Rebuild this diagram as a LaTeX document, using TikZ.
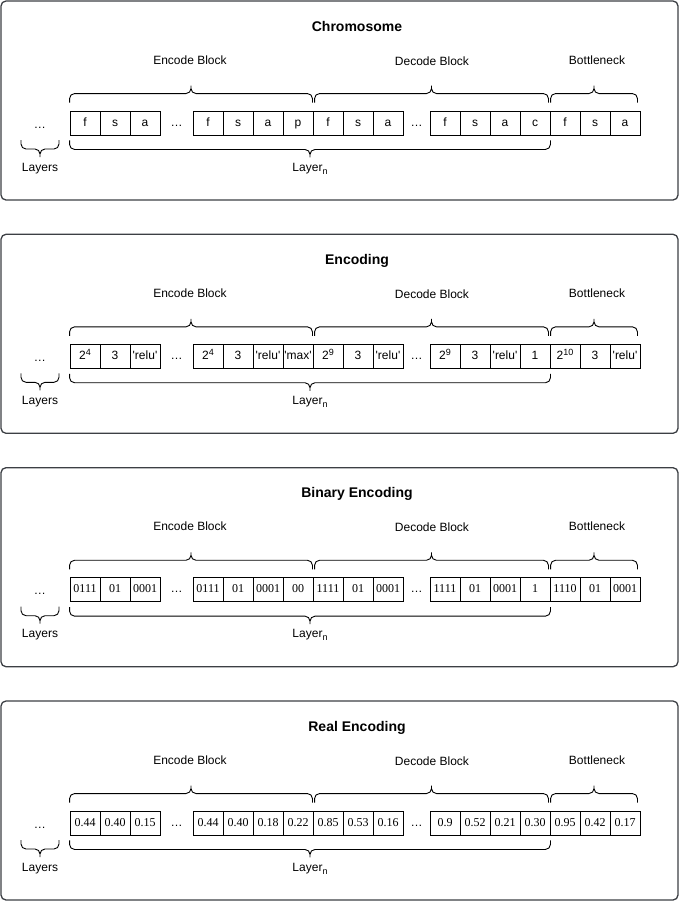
\documentclass[tikz,border=0pt]{standalone}
\usepackage{fontspec}
\setmainfont{Liberation Sans}
\newfontfamily\plainsans{Liberation Sans}
\newfontfamily\plainserif{Liberation Serif}
\usetikzlibrary{calc}
\definecolor{PanelEdge}{HTML}{3C3F44}
\newcommand{\sups}[1]{\raisebox{4pt}{\fontsize{9}{10}\selectfont #1}}
\newcommand{\subs}[1]{\raisebox{-3pt}{\fontsize{9}{10}\selectfont #1}}
\tikzset{
    panel/.style = {draw=PanelEdge, line width=1.3pt, rounded corners=5pt},
    cell/.style = {draw, rectangle, line width=0.9pt,
        minimum width=30pt,
        minimum height=24pt,
        inner sep=0pt, text height=9pt, text depth=3pt},
    blocklabel/.style = {anchor=base, inner sep=0pt, font=\fontsize{12}{14}\selectfont},
    paneltitle/.style = {anchor=base, inner sep=0pt, font=\bfseries\fontsize{14}{16}\selectfont},
    dots/.style = {inner sep=0pt, text height=9pt, text depth=3pt, font=\fontsize{12}{14}\selectfont},
    bracketline/.style = {draw, line width=0.9pt, rounded corners=5pt}
}
% curly bracket: #1,#2 end anchors, #3 gap to the cells, #4 = 1 tip up, -1 tip down
\newcommand{\curlybrace}[4]{%
    \draw[bracketline] let \p1=(#1), \p2=(#2), \n1={0.5*(\x1+\x2)},
        \n2={#4*#3}, \n3={#4*(#3+9)}, \n4={#4*(#3+17)} in
        (\x1,\y1+\n2) -- (\x1,\y1+\n3) -- (\n1,\y1+\n3) -- (\n1,\y1+\n4)
        (\x2,\y2+\n2) -- (\x2,\y2+\n3) -- (\n1,\y2+\n3) -- (\n1,\y2+\n4);
}

\begin{document}
\begin{tikzpicture}[x=1pt,y=-1pt]
    \useasboundingbox (0,0) rectangle (679,903);
    \foreach \py/\pn/\ptitle/\cf/\cells in {
        0/chr/Chromosome/\plainsans/{f,s,a,f,s,a,p,f,s,a,f,s,a,c,f,s,a},
        233.3/enc/Encoding/\plainsans/{2\sups{4},3,'relu',2\sups{4},3,'relu','max',2\sups{9},3,'relu',2\sups{9},3,'relu',1,2\sups{10},3,'relu'},
        466.7/bin/Binary Encoding/\plainserif/{0111,01,0001,0111,01,0001,00,1111,01,0001,1111,01,0001,1,1110,01,0001},
        700/real/Real Encoding/\plainserif/{0.44,0.40,0.15,0.44,0.40,0.18,0.22,0.85,0.53,0.16,0.9,0.52,0.21,0.30,0.95,0.42,0.17}}{
        \draw[panel] (1,1+\py) rectangle (678,200+\py);
        \node[paneltitle] (\pn-title) at (357,31+\py) {\ptitle};
        % genes of the layers
        \foreach \txt [count=\i] in \cells {
            \pgfmathsetmacro\cx{85+30*(\i-1)+33*(\i>3)+27*(\i>10)}
            \node[cell, font=\cf\fontsize{12}{14}\selectfont] (\pn\i) at (\cx,123+\py) {\txt};
        }
        \node[dots] (\pn-d0) at (40,125+\py) {\ldots};
        \node[dots] (\pn-d1) at (176.5,123+\py) {\ldots};
        \node[dots] (\pn-d2) at (416.5,123+\py) {\ldots};
        \coordinate (\pn-ll) at (21,135+\py);
        \coordinate (\pn-lr) at (59,135+\py);
        % brackets
        \curlybrace{\pn1.north west}{[xshift=-1pt]\pn7.north east}{8}{1}
        \curlybrace{[xshift=2pt]\pn8.north west}{[xshift=-2pt]\pn14.north east}{8}{1}
        \curlybrace{[xshift=1pt]\pn15.north west}{[xshift=-3pt]\pn17.north east}{8}{1}
        \curlybrace{\pn1.south west}{\pn14.south east}{5}{-1}
        \curlybrace{\pn-ll}{\pn-lr}{5}{-1}
        \node[blocklabel] (\pn-enc) at (190,64+\py) {Encode Block};
        \node[blocklabel] (\pn-dec) at (432,65+\py) {Decode Block};
        \node[blocklabel] (\pn-bot) at (597,64+\py) {Bottleneck};
        \node[blocklabel] (\pn-lys) at (40,171+\py) {Layers};
        \node[blocklabel] (\pn-lyn) at (310,171+\py) {Layer\subs{n}};
    }
\end{tikzpicture}
\end{document}
